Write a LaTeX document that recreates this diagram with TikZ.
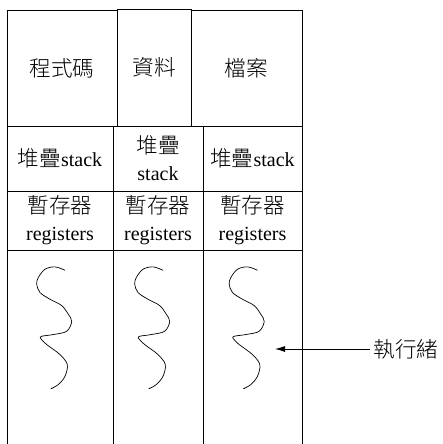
\documentclass[tikz,border=0pt]{standalone}
\usepackage{fontspec}
\setmainfont{Liberation Serif}
\newfontfamily\cjk[Scale=1.08]{Noto Sans CJK TC Light}
\usetikzlibrary{arrows.meta}

\tikzset{
  cell/.style={draw, line width=0.9pt, inner sep=0pt, align=center, font=\fontsize{20}{27}\selectfont},
  squiggle/.pic={\draw[line width=0.7pt] plot[smooth, tension=0.55] coordinates {(5,20.7) (-5,17.3) (-15,19.7) (-21.7,28) (-23.3,34.7) (-20,43) (-10,49.7) (1.7,56) (8.3,64.7) (11.7,72) (6.7,81.7) (-6.7,85) (-18.3,86.7) (-19.3,89) (-13.3,95) (0,105) (7.3,115) (5,126.7) (-1.7,135) (-9.3,139.3)};}
}

\begin{document}
\begin{tikzpicture}[x=1pt, y=-1pt]
\useasboundingbox (0,0) rectangle (442,444);
    % address space
    \node[cell, minimum width=110pt, minimum height=116pt] (code) at (62,68) {\cjk 程式碼};
    \node[cell, minimum width=74pt, minimum height=117pt] (data) at (154,67.5) {\cjk 資料};
    \node[cell, minimum width=111pt, minimum height=116pt] (file) at (246.5,68) {\cjk 檔案};
    % per thread
    \node[cell, minimum width=106pt, minimum height=65pt] (stackA) at (60,158.5) {{\cjk 堆疊}stack};
    \node[cell, minimum width=90pt, minimum height=65pt] (stackB) at (158,158.5) {{\cjk 堆疊}\\stack};
    \node[cell, minimum width=99pt, minimum height=65pt] (stackC) at (252.5,158.5) {{\cjk 堆疊}stack};
    \node[cell, minimum width=106pt, minimum height=59pt] (regA) at (60,220.5) {{\cjk 暫存器}\\registers};
    \node[cell, minimum width=90pt, minimum height=59pt] (regB) at (158,220.5) {{\cjk 暫存器}\\registers};
    \node[cell, minimum width=99pt, minimum height=59pt] (regC) at (252.5,220.5) {{\cjk 暫存器}\\registers};
    \node[cell, minimum width=106pt, minimum height=200pt] (thrA) at (60,350) {};
    \node[cell, minimum width=90pt, minimum height=200pt] (thrB) at (158,350) {};
    \node[cell, minimum width=99pt, minimum height=200pt] (thrC) at (252.5,350) {};
    \pic at (thrA.north) {squiggle};
    \pic at (thrB.north) {squiggle};
    \pic at (thrC.north) {squiggle};
    % label
    \node[font=\fontsize{20}{24}\selectfont\cjk] (thread) at (406,349) {執行緒};
    \coordinate (tip) at (275,349);
    \draw[line width=0.9pt, -{Latex[length=10pt, width=6pt]}] (thread.west) -- (tip);
\end{tikzpicture}
\end{document}
